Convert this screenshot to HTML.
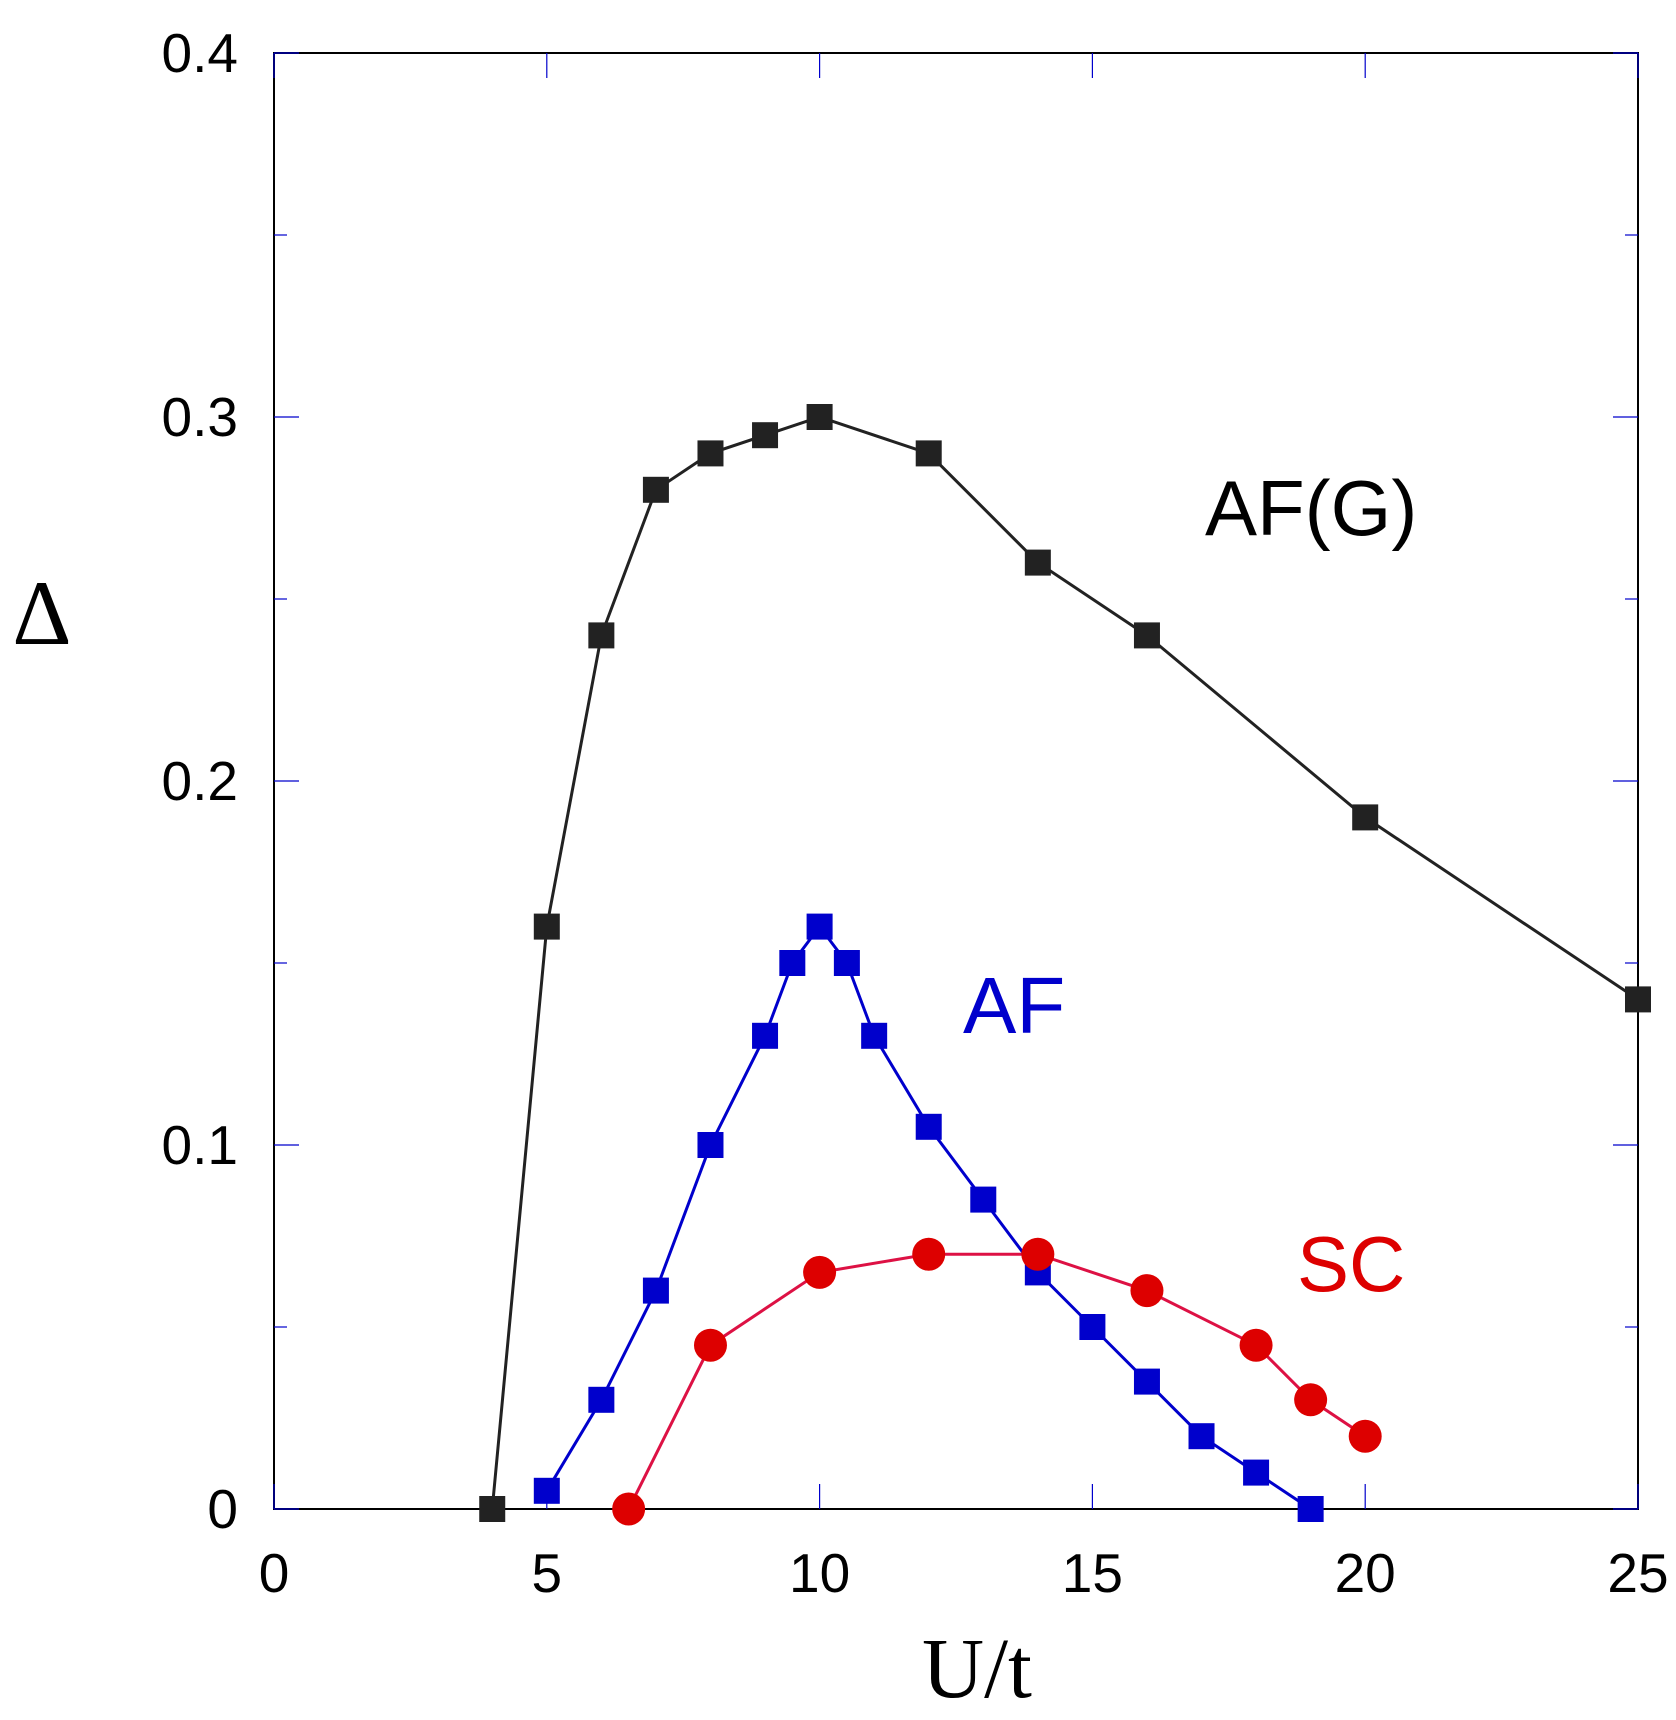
<!DOCTYPE html>
<html><head><style>html,body{margin:0;padding:0;background:#fff}</style></head>
<body>
<svg id="s" width="1676" height="1715" xmlns="http://www.w3.org/2000/svg" font-family="Liberation Sans, sans-serif"></svg>
<script>
const s=document.getElementById('s');
const L=274,R=1638,T=53,B=1509;
const X=x=>L+(R-L)*x/25, Y=y=>B-(B-T)*y/0.4;
let h='';
h+=`<rect x="${L}" y="${T}" width="${R-L}" height="${B-T}" fill="none" stroke="#000" stroke-width="2"/>`;
for(let i=0;i<=5;i++){const x=X(i*5);h+=`<line x1="${x}" y1="${B}" x2="${x}" y2="${B-25}" stroke="#00c" stroke-width="1.2"/><line x1="${x}" y1="${T}" x2="${x}" y2="${T+25}" stroke="#00c" stroke-width="1.2"/>`;
h+=`<text x="${x}" y="1592" font-size="55" text-anchor="middle">${i*5}</text>`;}
for(let i=0;i<=8;i++){const y=Y(i*0.05);const l=i%2?13:25;h+=`<line x1="${L}" y1="${y}" x2="${L+l}" y2="${y}" stroke="#00c" stroke-width="1.2"/><line x1="${R}" y1="${y}" x2="${R-l}" y2="${y}" stroke="#00c" stroke-width="1.2"/>`;
if(i%2==0)h+=`<text x="238" y="${y+19}" font-size="55" text-anchor="end">${i==0?'0':(i*0.05).toFixed(1)}</text>`;}
function ser(d,c,lc,circ){h+=`<polyline points="${d.map(p=>X(p[0])+','+Y(p[1])).join(' ')}" fill="none" stroke="${lc}" stroke-width="3"/>`;
d.forEach(p=>{h+=circ?`<circle cx="${X(p[0])}" cy="${Y(p[1])}" r="16.5" fill="${c}"/>`:`<rect x="${X(p[0])-13}" y="${Y(p[1])-13}" width="26" height="26" fill="${c}"/>`;});}
ser([[4,0],[5,.16],[6,.24],[7,.28],[8,.29],[9,.295],[10,.3],[12,.29],[14,.26],[16,.24],[20,.19],[25,.14]],'#222','#222');
ser([[5,.005],[6,.03],[7,.06],[8,.1],[9,.13],[9.5,.15],[10,.16],[10.5,.15],[11,.13],[12,.105],[13,.085],[14,.065],[15,.05],[16,.035],[17,.02],[18,.01],[19,0]],'#0000cc','#0000cc');
ser([[6.5,0],[8,.045],[10,.065],[12,.07],[14,.07],[16,.06],[18,.045],[19,.03],[20,.02]],'#dd0000','#dd1144',true);
h+=`<text x="1205" y="535" font-size="78">AF(G)</text>`;
h+=`<text x="963" y="1033" font-size="80" fill="#0000cc">AF</text>`;
h+=`<text x="1297" y="1291" font-size="78" fill="#dd0000">SC</text>`;
h+=`<text x="977" y="1697" font-size="86" text-anchor="middle" font-family="Liberation Serif, serif">U/t</text>`;
h+=`<text x="42" y="644" font-size="92" text-anchor="middle" font-family="Liberation Serif, serif">Δ</text>`;
s.innerHTML=h;
</script>
</body></html>
